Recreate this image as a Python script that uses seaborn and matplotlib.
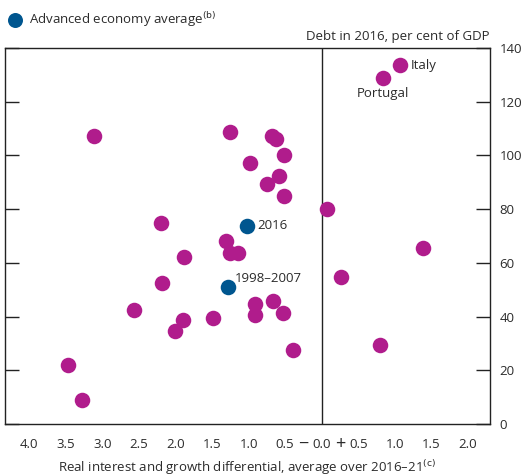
import matplotlib
matplotlib.use("Agg")
import matplotlib.pyplot as plt
from matplotlib.lines import Line2D
from matplotlib.ticker import FixedLocator, FuncFormatter
from matplotlib.transforms import blended_transform_factory
import seaborn as sns
import pandas as pd

sns.set_style("white")
plt.rcParams['font.family'] = ['Open Sans', 'DejaVu Sans']

# Countries: real interest-growth differential (x), debt in 2016 (y)
country_x = [1.07, 0.84, -3.11, -1.25, -0.68, -0.62, -0.52, -0.98, -0.58, -0.75,
             -0.51, 0.07, -2.20, -1.31, -1.25, -1.15, -1.88, 1.39, 0.26, -2.19,
             -2.57, -0.91, -0.67, -0.53, -0.91, -1.89, -2.00, -1.48, -0.39, 0.79,
             -3.47, -3.28]
country_y = [133.6, 128.9, 107.1, 108.6, 107.1, 106.0, 100.2, 97.3, 92.3, 89.2,
             85.0, 80.1, 74.8, 68.1, 63.6, 63.6, 62.0, 65.6, 54.9, 52.6,
             42.6, 44.5, 45.7, 41.5, 40.6, 38.7, 34.7, 39.5, 27.6, 29.5,
             21.8, 8.8]
country_labels = ["Italy", "Portugal"] + [""] * 30

avg_x = [-1.02, -1.28]
avg_y = [73.9, 50.9]
avg_labels = ["2016", "1998–2007"]

x_ticks = [-4.0, -3.5, -3.0, -2.5, -2.0, -1.5, -1.0, -0.5, 0.0, 0.5, 1.0, 1.5, 2.0]
y_ticks = [0, 20, 40, 60, 80, 100, 120, 140]

MAGENTA = "#B01C8C"
BLUE = "#00568F"
TXT = "#2b2b2b"
FS = 9.5

countries = pd.DataFrame({"x": country_x, "y": country_y, "label": country_labels})
averages = pd.DataFrame({"x": avg_x, "y": avg_y, "label": avg_labels})

fig = plt.figure(figsize=(5.29, 4.76), dpi=100)
ax = fig.add_axes([5 / 529, 1 - 424 / 476, 485 / 529, 376 / 476])

sns.scatterplot(data=countries, x="x", y="y", ax=ax, color=MAGENTA, s=125,
                linewidth=0, zorder=3)
sns.scatterplot(data=averages, x="x", y="y", ax=ax, color=BLUE, s=125,
                linewidth=0, zorder=4)

ax.set_xlim(-4.33, 2.30)
ax.set_ylim(0, 140)
ax.axvline(0, color="#222222", lw=1.0, zorder=2)

ax.xaxis.set_major_locator(FixedLocator(x_ticks))
ax.yaxis.set_major_locator(FixedLocator(y_ticks))
ax.xaxis.set_major_formatter(FuncFormatter(lambda v, pos: f"{abs(v):.1f}"))
ax.yaxis.tick_right()
ax.tick_params(axis="x", direction="in", length=10, width=1, color="#222222",
               labelsize=FS, labelcolor=TXT, pad=10)
ax.tick_params(axis="y", direction="in", length=10, width=1, color="#222222",
               labelsize=FS, labelcolor=TXT, left=True, right=True,
               labelleft=False, labelright=True, pad=7)
for sp in ax.spines.values():
    sp.set_color("#222222")
    sp.set_linewidth(1.0)

# sign markers around zero
trans = blended_transform_factory(ax.transData, ax.transAxes)
ax.text(-0.25, -0.052, "−", transform=trans, ha="center", va="center",
        fontsize=13, color=TXT)
ax.text(0.25, -0.052, "+", transform=trans, ha="center", va="center",
        fontsize=13, color=TXT)

ax.set_xlabel("Real interest and growth differential, average over 2016–21$^{\\rm (c)}$",
              fontsize=FS, color=TXT, labelpad=5)
ax.set_ylabel("")

ax.text(1.0, 1.012, "Debt in 2016, per cent of GDP", transform=ax.transAxes,
        ha="right", va="bottom", fontsize=FS, color=TXT)

# point labels
for _, r in countries.iterrows():
    if r["label"] == "Italy":
        ax.annotate("Italy", (r["x"], r["y"]), xytext=(8, 0), textcoords="offset points",
                    ha="left", va="center", fontsize=FS, color=TXT)
    elif r["label"] == "Portugal":
        ax.annotate("Portugal", (r["x"], r["y"]), xytext=(0, -11), textcoords="offset points",
                    ha="center", va="center", fontsize=FS, color=TXT)
for _, r in averages.iterrows():
    if r["label"] == "2016":
        ax.annotate("2016", (r["x"], r["y"]), xytext=(7, 0), textcoords="offset points",
                    ha="left", va="center", fontsize=FS, color=TXT)
    else:
        ax.annotate("1998–2007", (r["x"], r["y"]), xytext=(5, 6), textcoords="offset points",
                    ha="left", va="center", fontsize=FS, color=TXT)

handle = Line2D([], [], marker="o", linestyle="", markersize=10.8,
                markerfacecolor=BLUE, markeredgewidth=0)
fig.legend([handle], ["Advanced economy average$^{\\rm (b)}$"], loc="center left",
           bbox_to_anchor=(0.0, 1 - 20 / 476), frameon=False, fontsize=FS,
           handletextpad=0.3, handlelength=1.6, borderaxespad=0, borderpad=0.3,
           labelcolor=TXT)

fig.savefig("out.png", dpi=100)
